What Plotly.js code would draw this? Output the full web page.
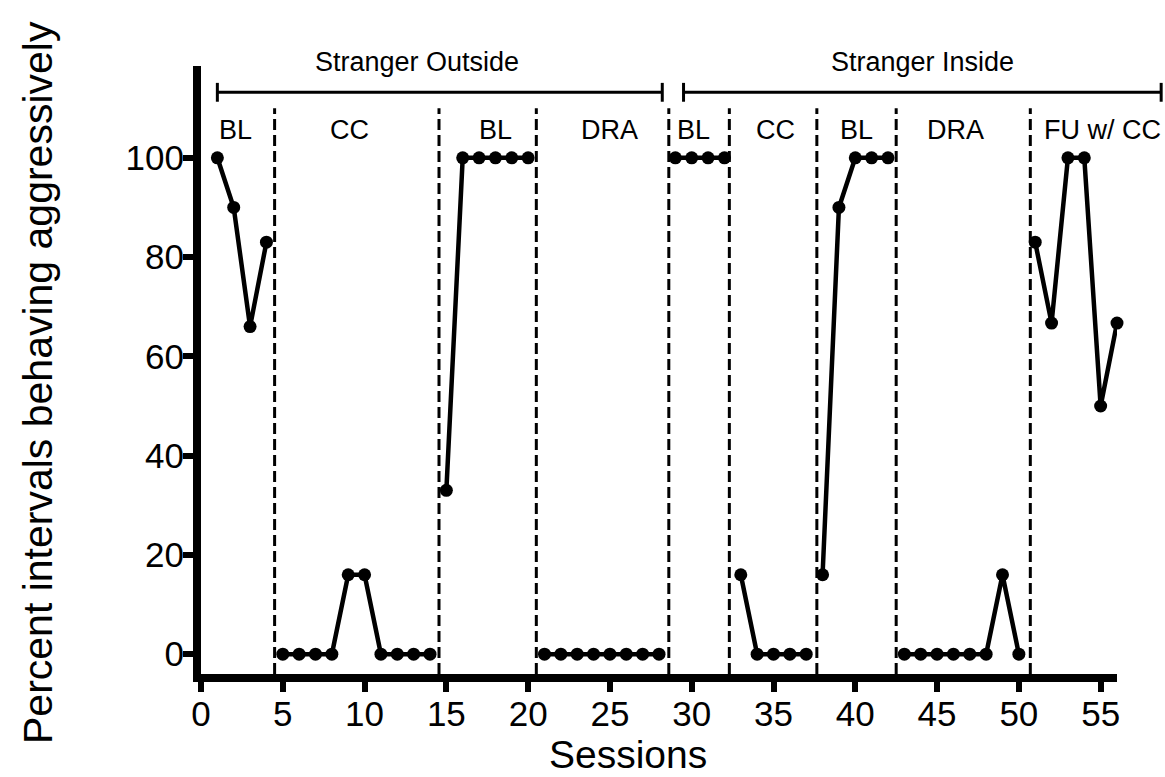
<!DOCTYPE html>
<html><head><meta charset="utf-8">
<script src="https://cdn.plot.ly/plotly-3.0.1.min.js"></script>
<style>html,body{margin:0;padding:0;background:#fff}#chart{width:1165px;height:777px}</style>
</head><body><div id="chart"></div>
<script>
// ---- data ----
const sessions = [1,2,3,4,5,6,7,8,9,10,11,12,13,14,15,16,17,18,19,20,21,22,23,24,25,26,27,28,29,30,31,32,33,34,35,36,37,38,39,40,41,42,43,44,45,46,47,48,49,50,51,52,53,54,55,56];
const values = [100,90,66,83, 0,0,0,0,16,16,0,0,0,0, 33,100,100,100,100,100, 0,0,0,0,0,0,0,0, 100,100,100,100, 16,0,0,0,0, 16,90,100,100,100, 0,0,0,0,0,0,16,0, 83,66.7,100,100,50,66.7];
const phaseOf = [0,0,0,0, 1,1,1,1,1,1,1,1,1,1, 2,2,2,2,2,2, 3,3,3,3,3,3,3,3, 4,4,4,4, 5,5,5,5,5, 6,6,6,6,6, 7,7,7,7,7,7,7,7, 8,8,8,8,8,8];
const phaseLabels = ["BL","CC","BL","DRA","BL","CC","BL","DRA","FU w/ CC"];
const phaseLabelX = [2.1, 9.1, 18.0, 25.0, 30.1, 35.1, 40.1, 46.1, 55.1];
const phaseChanges = [4.5, 14.55, 20.5, 28.6, 32.3, 37.65, 42.5, 50.7];
const conditionLabels = ["Stranger Outside", "Stranger Inside"];
const conditionStart = [1.0, 29.5];
const conditionEnd = [28.2, 58.7];
const conditionLabelX = [13.2, 44.1];
const xTicks = [0,5,10,15,20,25,30,35,40,45,50,55];
const yTicks = [0,20,40,60,80,100];
const xTitle = "Sessions";
const yTitle = "Percent intervals behaving aggressively";

// ---- chart ----
const XR = [0, 56], YR = [-4, 118.5];
const L = 201, R = 48, T = 66, B = 103, W = 1165, H = 777;
const PW = W - L - R, PH = H - T - B;
const xp = v => (v - XR[0]) / (XR[1] - XR[0]);
const yp = v => (v - YR[0]) / (YR[1] - YR[0]);
const pxX = px => (px - L) / PW;          // pixel -> paper, for the free-standing titles
const pxY = py => (H - B - py) / PH;
const FONT = "Liberation Sans, Arial, sans-serif";

const traces = [];
const nPhases = phaseLabels.length;
for (let p = 0; p < nPhases; p++) {
  const xs = [], ys = [];
  sessions.forEach((s, i) => { if (phaseOf[i] === p) { xs.push(s); ys.push(values[i]); } });
  traces.push({
    x: xs, y: ys, type: 'scatter', mode: 'lines+markers',
    line: {color: '#000', width: 4.5},
    marker: {color: '#000', size: 13},
    cliponaxis: false, showlegend: false, hoverinfo: 'x+y'
  });
}

const shapes = [];
phaseChanges.forEach(x => shapes.push({
  type: 'line', xref: 'x', yref: 'y', x0: x, x1: x, y0: YR[0], y1: 110,
  line: {color: '#000', width: 3, dash: '11px,5px'}
}));
const brY = 113.2, brH = 1.9;
conditionLabels.forEach((t, i) => {
  shapes.push({type: 'line', xref: 'paper', yref: 'paper', x0: xp(conditionStart[i]), x1: xp(conditionEnd[i]), y0: yp(brY), y1: yp(brY), line: {color: '#000', width: 3}});
  shapes.push({type: 'line', xref: 'paper', yref: 'paper', x0: xp(conditionStart[i]), x1: xp(conditionStart[i]), y0: yp(brY - brH), y1: yp(brY + brH), line: {color: '#000', width: 3}});
  shapes.push({type: 'line', xref: 'paper', yref: 'paper', x0: xp(conditionEnd[i]), x1: xp(conditionEnd[i]), y0: yp(brY - brH), y1: yp(brY + brH), line: {color: '#000', width: 3}});
});

const annotations = [];
phaseLabels.forEach((t, i) => annotations.push({
  text: t, xref: 'x', yref: 'paper', x: phaseLabelX[i], y: yp(105.6),
  xanchor: 'center', yanchor: 'middle', showarrow: false,
  font: {family: FONT, size: 27, color: '#000'}
}));
conditionLabels.forEach((t, i) => annotations.push({
  text: t, xref: 'x', yref: 'paper', x: conditionLabelX[i], y: yp(119.3),
  xanchor: 'center', yanchor: 'middle', showarrow: false,
  font: {family: FONT, size: 27, color: '#000'}
}));
// axis titles (placed as in the reference, which is not centred on the plot area)
annotations.push({text: yTitle, xref: 'paper', yref: 'paper', x: pxX(38), y: pxY(383),
  xanchor: 'center', yanchor: 'middle', textangle: -90, showarrow: false,
  font: {family: FONT, size: 41, color: '#000'}});
annotations.push({text: xTitle, xref: 'paper', yref: 'paper', x: pxX(628), y: pxY(754),
  xanchor: 'center', yanchor: 'middle', showarrow: false,
  font: {family: FONT, size: 39, color: '#000'}});

const axisCommon = {
  showline: true, linewidth: 8, linecolor: '#000', mirror: false,
  ticks: 'outside', ticklen: 10, tickwidth: 6, tickcolor: '#000',
  showgrid: false, zeroline: false, ticklabelstandoff: -8,
  tickfont: {family: FONT, size: 35, color: '#000'}
};

const layout = {
  width: W, height: H,
  margin: {l: L, r: R, t: T, b: B},
  paper_bgcolor: '#fff', plot_bgcolor: '#fff',
  font: {family: FONT, color: '#000'},
  xaxis: Object.assign({}, axisCommon, {
    range: XR, tickmode: 'array', tickvals: xTicks, ticktext: xTicks.map(String)
  }),
  yaxis: Object.assign({}, axisCommon, {
    range: YR, tickmode: 'array', tickvals: yTicks, ticktext: yTicks.map(String)
  }),
  shapes: shapes, annotations: annotations, showlegend: false
};

Plotly.newPlot('chart', traces, layout, {displayModeBar: false, staticPlot: true});
</script>
</body></html>
